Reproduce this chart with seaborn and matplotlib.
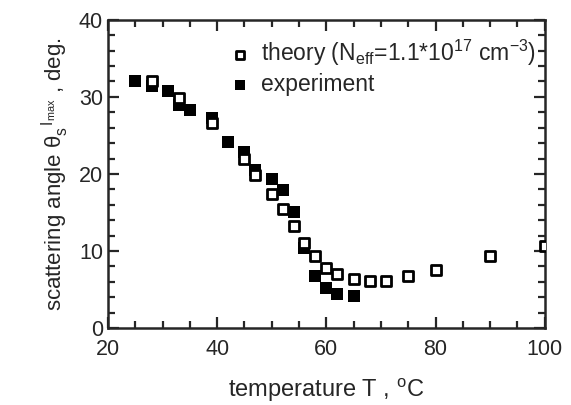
import matplotlib
matplotlib.use("Agg")
import matplotlib.pyplot as plt
import seaborn as sns
from matplotlib.ticker import MultipleLocator

# theory (open squares)
theory_T = [28, 33, 39, 45, 47, 50, 52, 54, 56, 58, 60, 62, 65, 68, 71, 75, 80, 90, 100]
theory_theta = [32.0, 29.9, 26.6, 21.9, 19.9, 17.4, 15.5, 13.2, 11.1, 9.4, 7.8, 7.0, 6.4, 6.1, 6.1, 6.8, 7.5, 9.4, 10.7]

# experiment (filled squares)
exp_T = [25, 28, 31, 33, 35, 39, 42, 45, 47, 50, 52, 54, 56, 58, 60, 62, 65]
exp_theta = [32.0, 31.4, 30.8, 28.9, 28.3, 27.2, 24.2, 22.9, 20.5, 19.3, 17.9, 15.1, 10.4, 6.8, 5.2, 4.4, 4.1]

sns.set_style("ticks")
plt.rcParams["font.family"] = ["Liberation Sans", "DejaVu Sans"]
plt.rcParams["mathtext.fontset"] = "custom"
plt.rcParams["mathtext.rm"] = "Liberation Sans"
plt.rcParams["mathtext.it"] = "Liberation Sans"
plt.rcParams["mathtext.bf"] = "Liberation Sans:bold"

fig = plt.figure(figsize=(5.71, 4.05), dpi=100)
ax = fig.add_axes([0.189, 0.190, 0.765, 0.761])

sns.scatterplot(x=exp_T, y=exp_theta, marker="s", s=78, color="black",
                linewidth=0, label="experiment", ax=ax, zorder=3)
sns.scatterplot(x=theory_T, y=theory_theta, marker="s", s=45, facecolor="white",
                edgecolor="black", linewidth=2, ax=ax, zorder=4,
                label=r"theory (N$_{\mathrm{eff}}$=1.1*10$^{17}$ cm$^{-3}$)")

ax.set_xlim(20, 100)
ax.set_ylim(0, 40)
ax.xaxis.set_major_locator(MultipleLocator(20))
ax.xaxis.set_minor_locator(MultipleLocator(5))
ax.yaxis.set_major_locator(MultipleLocator(10))
ax.yaxis.set_minor_locator(MultipleLocator(2))
ax.tick_params(which="both", direction="in", top=True, right=True, width=1.6, labelsize=15.5)
ax.tick_params(which="major", length=8)
ax.tick_params(which="minor", length=5)
ax.tick_params(axis="x", pad=8)
for sp in ax.spines.values():
    sp.set_linewidth(1.8)
    sp.set_visible(True)

ax.set_xlabel(r"temperature T , $^{\mathrm{o}}$C", fontsize=17, labelpad=12)
ax.set_ylabel(r"scattering angle $\theta_{\mathrm{s}}^{\ \ \mathrm{I}_{\mathrm{max}}}$ , deg.",
              fontsize=16, labelpad=6)

h, l = ax.get_legend_handles_labels()
ax.legend(h[::-1], l[::-1], loc="upper right", bbox_to_anchor=(1.0, 0.97), frameon=False,
          fontsize=16.5, handletextpad=0.3, borderaxespad=0.0, labelspacing=0.2,
          markerscale=0.8, handlelength=1.2)

fig.savefig("out.png", dpi=100)
